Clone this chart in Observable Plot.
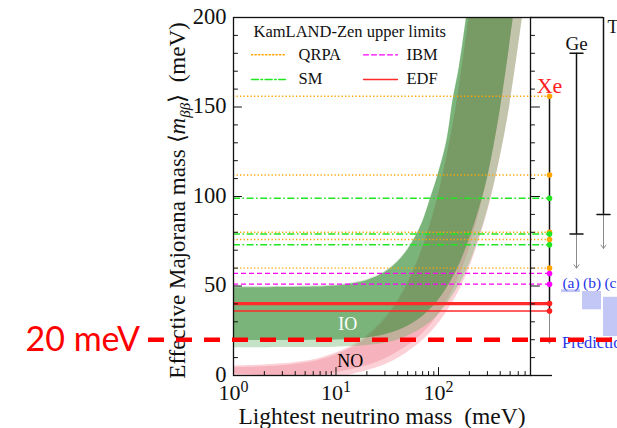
<!DOCTYPE html>
<html><head><meta charset="utf-8">
<script src="https://cdn.jsdelivr.net/npm/d3@7"></script>
<script src="https://cdn.jsdelivr.net/npm/@observablehq/plot@0.6"></script>
<style>
html,body{margin:0;padding:0;background:#fff;}
#chart{position:relative;width:617px;height:428px;overflow:hidden;background:#fff;}
#chart svg{position:absolute;left:0;top:0;}
</style></head><body><div id="chart"></div>
<script>
// ---------- data ----------
// bands: [lightest mass (meV), effective mass (meV)]; upper and lower edges of each band
const ioTop3 = [[1,49.5],[5,49.8],[10,50.5],[20,53.5],[30,58],[40,63.8],[50,70.5],[60,78],[70,86],[83,98.5],[98,111.5],[120,131],[139,154.5],[160,173],[187,200]];
const ioLow3 = [[1,15.5],[5,15.6],[10,15.8],[20,16.7],[30,18],[40,19.8],[50,22],[70,26.5],[100,34],[150,48],[200,62],[300,92],[400,122],[500,152],[660,200]];
const ioTopBest = [[1,49],[5,49.3],[10,50],[20,53],[30,57.5],[40,63.3],[50,70],[60,77.5],[70,85.5],[83,98],[98,111],[120,130],[139,154],[160,172],[188,200]];
const ioLowBest = [[1,19.5],[5,19.6],[10,19.8],[20,21],[30,22.8],[40,25],[50,27.5],[70,33],[100,42],[150,58.5],[200,76],[250,93],[300,110],[400,148],[538,200]];
const noTop3 = [[1,5.3],[2,5.9],[3,6.5],[5,8],[7,9.7],[10,12.6],[15,17.2],[20,22.2],[30,32],[40,41.9],[50,51.8],[70,71.6],[100,101.5],[150,151],[198,200]];
const noLow3 = [[1,0],[13,0],[15,0.8],[20,2.6],[30,6],[40,9.5],[50,13],[70,19.5],[100,29],[150,44.5],[200,60],[300,91],[400,122],[500,152],[660,200]];
const noTopBest = [[1,4.3],[2,4.9],[3,5.5],[5,7],[7,8.7],[10,11.5],[15,16],[20,21],[30,30.8],[40,40.6],[50,50.5],[70,70.4],[100,100.3],[150,150],[200,200]];
const noLowBest = [[1,0.8],[2,0],[7,0],[10,1.6],[15,3.6],[20,5.4],[30,9.2],[50,16.6],[70,23.5],[100,34],[150,52],[200,71],[300,110],[400,148],[538,200]];

// KamLAND-Zen upper limits (meV)
const methods = ["QRPA", "IBM", "SM", "EDF"];
const qrpaLimits = [156, 112, 80, 76, 60];
const ibmLimits = [57, 51];
const smLimits = [99, 79, 73];
const edfLimits = [40.2, 36];

// experiments panel
const experiments = ["Xe", "Ge", "Te"];
const rangeTop = [156, 180, 200];
const rangeBottom = [36, 79, 90];
const arrowTip = [18, 60, 71];
const capValues = [[], [180, 79], [90]];

// predictions
const predLabels = ["(a)", "(b)", "(c)"];
const predLow = [46.3, 36.7, 21.8];
const predHigh = [47.9, 46.9, 43.7];

const target = 20;

// ticks
const yMajor = [0, 50, 100, 150, 200];
const yMinor = [10, 20, 30, 40, 60, 70, 80, 90, 110, 120, 130, 140, 160, 170, 180, 190];
const xMajor = [1, 10, 100];
const xTickExponents = ["0", "1", "2"];
const xMinor = [2, 3, 4, 5, 6, 7, 8, 9, 20, 30, 40, 50, 60, 70, 80, 90, 200, 300, 400, 500, 600, 700];

const bandLabels = [{text: "IO", m0: 13, mbb: 28.5}, {text: "NO", m0: 13.8, mbb: 8.1}];

// ---------- layout ----------
const W = 617, H = 428, MT = 17, MB = 53;
const serif = "'Liberation Serif', 'Times New Roman', serif";
const lineShape = {draw(ctx, l) { ctx.moveTo(0, 0); ctx.lineTo(0, -l); }};
const styles = {
  QRPA: {stroke: "#ffa500", strokeDasharray: "1.3,2.2", strokeWidth: 1.4},
  IBM: {stroke: "#ff00ff", strokeDasharray: "5,3", strokeWidth: 1.3},
  SM: {stroke: "#22e622", strokeDasharray: "7,2.5,1.6,2.5", strokeWidth: 1.5},
  EDF: {stroke: "#ff2a2a", strokeWidth: 1.4}
};
const limits = {QRPA: qrpaLimits, IBM: ibmLimits, SM: smLimits, EDF: edfLimits};
const edfWidth = [3.2, 1.4];

const pairs = (up, lo) => up.map((u, i) => ({xa: u[0], ya: u[1], xb: lo[i][0], yb: lo[i][1]}));
const band = (up, lo, fill, fillOpacity) => Plot.area(pairs(up, lo), {x1: "xa", y1: "ya", x2: "xb", y2: "yb", fill, fillOpacity, curve: "catmull-rom", clip: true});

const limitMarks = methods.flatMap(m => {
  if (m === "EDF") return limits[m].map((v, i) => Plot.ruleY([v], {...styles[m], strokeWidth: edfWidth[i], insetRight: -19}));
  return [Plot.ruleY(limits[m], {...styles[m], insetRight: -19})];
});

const legendMarks = methods.flatMap((m, i) => {
  const r = Math.floor(i / 2), c = i % 2;
  return [
    Plot.vector([m], {frameAnchor: "top-left", dx: 18 + c * 112, dy: 37.3 + r * 24.7, rotate: 90, length: 34, anchor: "start", shape: lineShape, ...styles[m]}),
    Plot.text([m], {frameAnchor: "top-left", dx: 65 + c * 108, dy: 36.8 + r * 24.7, textAnchor: "start", lineAnchor: "middle", fontSize: 16.5, fill: "#111"})
  ];
});

const yLabel = "Effective Majorana mass \u27e8m\u03b2\u03b2\u27e9 (meV)";

const main = Plot.plot({
  width: W, height: H, marginTop: MT, marginBottom: MB, marginLeft: 233, marginRight: 87,
  x: {type: "log", domain: [1, 790], axis: null},
  y: {domain: [0, 200], axis: null},
  style: {fontFamily: serif, background: "transparent", overflow: "visible", color: "#111"},
  marks: [
    band(noTop3, noLow3, "#fbd1d7", 1),
    band(noTopBest, noLowBest, "#f7b3bd", 1),
    band(ioTop3, ioLow3, "#5aaa5a", 0.345),
    band(ioTopBest, ioLowBest, "#288228", 0.48),
    ...limitMarks,
    Plot.frame({stroke: "#111", strokeWidth: 1.3}),
    Plot.vector(yMajor, {y: d => d, frameAnchor: "left", rotate: 90, length: 8, anchor: "start", shape: lineShape, strokeWidth: 1}),
    Plot.vector(yMinor, {y: d => d, frameAnchor: "left", rotate: 90, length: 4, anchor: "start", shape: lineShape, strokeWidth: 1}),
    Plot.vector(xMajor, {x: d => d, frameAnchor: "bottom", rotate: 0, length: 8, anchor: "start", shape: lineShape, strokeWidth: 1}),
    Plot.vector(xMinor, {x: d => d, frameAnchor: "bottom", rotate: 0, length: 4, anchor: "start", shape: lineShape, strokeWidth: 1}),
    Plot.text(yMajor, {y: d => d, text: d => String(d), frameAnchor: "left", dx: -7, dy: -1, textAnchor: "end", lineAnchor: "middle", fontSize: 22.5}),
    Plot.text(xMajor, {x: d => d, text: (d, i) => "10^" + xTickExponents[i], frameAnchor: "bottom", dy: 8.5, lineAnchor: "top", fontSize: 22}),
    Plot.text(["Lightest neutrino mass\u00a0 (meV)"], {frameAnchor: "bottom", dy: 40.5, lineAnchor: "middle", fontSize: 23.5}),
    Plot.text([yLabel], {frameAnchor: "left", rotate: -90, dx: -56, dy: 4, textAnchor: "middle", lineAnchor: "middle", fontSize: 23}),
    Plot.text(["KamLAND-Zen upper limits"], {frameAnchor: "top-left", dx: 20, dy: 14.4, textAnchor: "start", lineAnchor: "middle", fontSize: 16.5}),
    ...legendMarks,
    Plot.text(bandLabels, {x: "m0", y: "mbb", text: "text", fontSize: 18, lineAnchor: "middle", fill: (d) => d.text === "IO" ? "#ffffff" : "#000000"})
  ]
});

// experiments panel
const expData = experiments.map((e, i) => ({name: e, top: rangeTop[i], bottom: rangeBottom[i], tip: arrowTip[i]}));
const capData = experiments.flatMap((e, i) => capValues[i].map(v => ({name: e, v})));
const dotData = methods.flatMap(m => limits[m].map(v => ({m, v})));
const dotColor = {QRPA: "#ffa500", IBM: "#ff00ff", SM: "#22e622", EDF: "#ff2020"};

const right = Plot.plot({
  width: W, height: H, marginTop: MT, marginBottom: MB, marginLeft: 530, marginRight: 0,
  x: {type: "point", domain: experiments, range: [549, 603], padding: 0, axis: null},
  y: {domain: [0, 200], axis: null},
  style: {fontFamily: serif, background: "transparent", overflow: "visible", color: "#111"},
  marks: [
    Plot.ruleY([200], {insetRight: 14, stroke: "#111", strokeWidth: 1.3}),
    Plot.ruleY([0], {insetRight: 65, stroke: "#111", strokeWidth: 1.3}),
    Plot.vector(yMajor, {y: d => d, frameAnchor: "left", rotate: 90, length: 9, anchor: "start", shape: lineShape, strokeWidth: 1}),
    Plot.vector(yMinor, {y: d => d, frameAnchor: "left", rotate: 90, length: 4, anchor: "start", shape: lineShape, strokeWidth: 1}),
    Plot.arrow(expData, {x1: "name", x2: "name", y1: "bottom", y2: "tip", stroke: "#8a8a8a", strokeWidth: 1, headLength: 6.2, headAngle: 73}),
    Plot.ruleX(expData, {x: "name", y1: "bottom", y2: "top", stroke: "#111", strokeWidth: 1.5, clip: true}),
    Plot.vector(capData, {x: "name", y: "v", rotate: 90, length: 13, anchor: "middle", shape: lineShape, strokeWidth: 1.5, stroke: "#111"}),
    Plot.dot(dotData, {x: () => "Xe", y: "v", r: 2.8, fill: d => dotColor[d.m], stroke: "none"}),
    Plot.text(expData.filter(d => d.name !== "Te"), {x: "name", y: "top", text: "name", lineAnchor: "bottom", dy: -3, fontSize: d => d.name === "Xe" ? 22 : 19, fill: d => d.name === "Xe" ? "#ff2020" : "#111"}),
    Plot.text(expData.filter(d => d.name === "Te"), {x: "name", y: "top", text: "name", lineAnchor: "top", dy: 3, dx: 4, textAnchor: "start", fontSize: 18, fill: "#111"})
  ]
});

// predictions + target line
const predData = predLabels.map((l, i) => ({label: l, lo: predLow[i], hi: predHigh[i]}));
const pred = Plot.plot({
  width: W, height: H, marginTop: MT, marginBottom: MB, marginLeft: 0, marginRight: 0,
  x: {type: "band", domain: predLabels, range: [560, 623], paddingInner: 0.1, paddingOuter: 0, axis: null},
  y: {domain: [0, 200], axis: null},
  style: {fontFamily: serif, background: "transparent", overflow: "visible"},
  marks: [
    Plot.barY(predData, {x: "label", y1: "lo", y2: "hi", fill: "#c3c7f5"}),
    Plot.text(predData, {x: "label", y: () => d3.max(predHigh), text: "label", lineAnchor: "bottom", dy: -2, fontSize: 15.5, fill: "#1f35e8"}),
    Plot.text(["Predictions"], {x: () => "(a)", y: () => d3.min(predLow), text: d => d, dx: -9, textAnchor: "start", lineAnchor: "top", fontSize: 16.5, fill: "#1f35e8"}),
    Plot.ruleY([target], {insetLeft: 148, stroke: "#ff0000", strokeWidth: 4.5, strokeDasharray: "16,12"}),
    Plot.text([target + " meV"], {frameAnchor: "left", y: () => target, dx: 25, textAnchor: "start", lineAnchor: "middle", fontFamily: "Lato, 'Noto Sans', sans-serif", fontSize: 34, fill: "#ff0000"})
  ]
});

const root = document.getElementById("chart");
root.append(main, right, pred);

const ns = "http://www.w3.org/2000/svg";
function tspan(t, s, attrs = {}) {
  const e = document.createElementNS(ns, "tspan");
  e.textContent = s;
  for (const k in attrs) e.setAttribute(k, attrs[k]);
  t.appendChild(e);
}
for (const t of main.querySelectorAll("text")) {
  const s = t.textContent;
  if (s === yLabel) {
    t.textContent = "";
    tspan(t, "Effective Majorana mass \u27e8");
    tspan(t, "m", {"font-style": "italic"});
    tspan(t, "\u03b2\u03b2", {"font-style": "italic", "font-size": "15", dy: "5"});
    tspan(t, "\u27e9\u00a0 (meV)", {dy: "-5"});
  } else if (s.startsWith("10^")) {
    t.textContent = "";
    tspan(t, "10");
    tspan(t, s.slice(3), {"font-size": "16", dy: "-8"});
  }
}
</script>
</body></html>
